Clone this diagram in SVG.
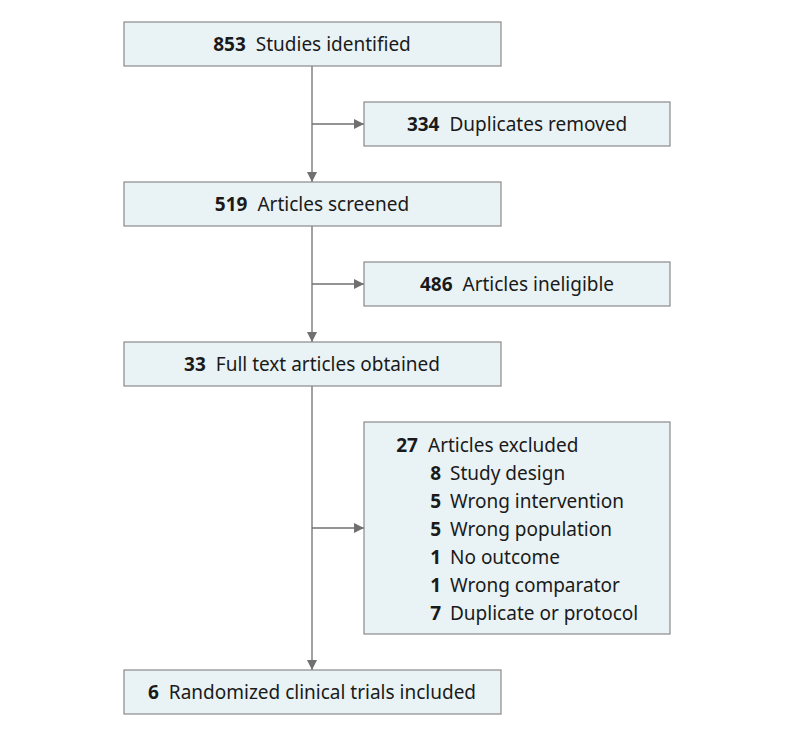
<svg xmlns="http://www.w3.org/2000/svg" width="794" height="734" viewBox="0 0 794 734">
<defs>
<marker id="ah" viewBox="0 0 10 10" refX="10" refY="5" markerWidth="10" markerHeight="10" markerUnits="userSpaceOnUse" orient="auto">
<path d="M0,0 L10,5 L0,10 z" fill="#707070"/>
</marker>
<style>
.box{fill:#e9f3f5;stroke:#8a8a8a;stroke-width:1.2}
.t{font-family:"Noto Sans","Open Sans",sans-serif;font-size:19px;fill:#1a1a1a}
.b{font-weight:bold}
.c{stroke:#707070;stroke-width:1.3;fill:none}
</style>
</defs>
<rect width="794" height="734" fill="#ffffff"/>
<g id="connectors">
<line class="c" x1="312" y1="66" x2="312" y2="182" marker-end="url(#ah)"/>
<line class="c" x1="312" y1="124" x2="364" y2="124" marker-end="url(#ah)"/>
<line class="c" x1="312" y1="226" x2="312" y2="342" marker-end="url(#ah)"/>
<line class="c" x1="312" y1="284" x2="364" y2="284" marker-end="url(#ah)"/>
<line class="c" x1="312" y1="386" x2="312" y2="670" marker-end="url(#ah)"/>
<line class="c" x1="312" y1="528" x2="364" y2="528" marker-end="url(#ah)"/>
</g>
<g id="n1"><rect class="box" x="124" y="22" width="377" height="44"/>
<text class="t" x="312" y="51" text-anchor="middle"><tspan class="b">853</tspan><tspan dx="10">Studies identified</tspan></text></g>
<g id="n2"><rect class="box" x="364" y="102" width="306" height="44"/>
<text class="t" x="517" y="131" text-anchor="middle"><tspan class="b">334</tspan><tspan dx="10">Duplicates removed</tspan></text></g>
<g id="n3"><rect class="box" x="124" y="182" width="377" height="44"/>
<text class="t" x="312" y="211" text-anchor="middle"><tspan class="b">519</tspan><tspan dx="10">Articles screened</tspan></text></g>
<g id="n4"><rect class="box" x="364" y="262" width="306" height="44"/>
<text class="t" x="517" y="291" text-anchor="middle"><tspan class="b">486</tspan><tspan dx="10">Articles ineligible</tspan></text></g>
<g id="n5"><rect class="box" x="124" y="342" width="377" height="44"/>
<text class="t" x="312" y="371" text-anchor="middle"><tspan class="b">33</tspan><tspan dx="10">Full text articles obtained</tspan></text></g>
<g id="n6"><rect class="box" x="364" y="422" width="306" height="212"/>
<text class="t b" x="418" y="452" text-anchor="end">27</text><text class="t" x="428" y="452">Articles excluded</text>
<text class="t b" x="441" y="480" text-anchor="end">8</text><text class="t" x="450" y="480">Study design</text>
<text class="t b" x="441" y="508" text-anchor="end">5</text><text class="t" x="450" y="508">Wrong intervention</text>
<text class="t b" x="441" y="536" text-anchor="end">5</text><text class="t" x="450" y="536">Wrong population</text>
<text class="t b" x="441" y="564" text-anchor="end">1</text><text class="t" x="450" y="564">No outcome</text>
<text class="t b" x="441" y="592" text-anchor="end">1</text><text class="t" x="450" y="592">Wrong comparator</text>
<text class="t b" x="441" y="620" text-anchor="end">7</text><text class="t" x="450" y="620">Duplicate or protocol</text></g>
<g id="n7"><rect class="box" x="124" y="670" width="377" height="44"/>
<text class="t" x="312" y="699" text-anchor="middle"><tspan class="b">6</tspan><tspan dx="10">Randomized clinical trials included</tspan></text></g>
</svg>
